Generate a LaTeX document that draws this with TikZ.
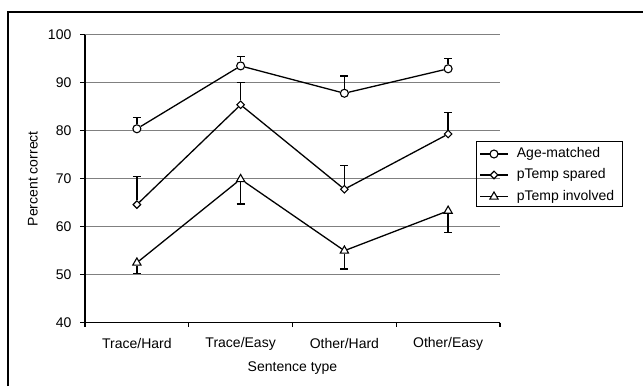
\documentclass[tikz,border=0pt]{standalone}
\usepackage{fontspec}
\setmainfont{Liberation Sans}
\usepackage{xcolor}
\usepackage{tikz}
\usetikzlibrary{shapes,shapes.geometric,positioning,calc}

\definecolor{gridgray}{gray}{0.5}

\tikzset{
    gridline/.style={gridgray, line width=1.3pt},
    axisline/.style={black, line width=1.3pt},
    dataline/.style={black, line width=1.3pt},
    errbar/.style={black, line width=1.3pt},
    agemark/.style={circle, draw, fill=white, line width=1.1pt, inner sep=0pt, minimum size=8pt},
    sparedmark/.style={diamond, draw, fill=white, line width=1.1pt, inner sep=0pt, minimum size=8pt},
    involvedmark/.style={regular polygon, regular polygon sides=3, draw, fill=white, line width=1.1pt, inner sep=0pt, minimum size=9.5pt},
    ticklabel/.style={inner sep=0pt}
}

\begin{document}
\begin{tikzpicture}[x=1pt, y=1pt, font=\fontsize{14}{16}\selectfont]
    \useasboundingbox (0,0) rectangle (643,386);
    % Frame
    \draw[line width=2pt] (8,0) -- (8,374) -- (643,374);

    % Plot area
    \begin{scope}[shift={(85,-128.7)}, x=103.75pt, y=4.8pt]
        \foreach \v in {50,60,...,100} \draw[gridline] (0,\v) -- (4,\v);
        \draw[axisline] (0,100) -- (0,40) -- (4,40);
        \foreach \v in {40,50,...,100}
            \draw[axisline] (0,\v) -- ++(-5pt,0) node[ticklabel, anchor=east, xshift=-8pt] {\v};
        \foreach \x in {0,1,2,3,4} \draw[axisline] (\x,40) -- ++(0,-4pt);
        \foreach \x/\name in {1/Trace\slash Hard, 2/Trace\slash Easy, 3/Other\slash Hard, 4/Other\slash Easy}
            \node[ticklabel] (cat\x) at (\x-0.5,40) [yshift=-21pt] {\name};
        \node[ticklabel] (xlabel) at (2,40) [yshift=-45pt] {Sentence type};
        \node[ticklabel, rotate=90] (ylabel) at ($(0,70)+(-52pt,0)$) {Percent correct};

        % Age-matched
        \foreach \i/\v/\e in {1/80.4/82.7, 2/93.5/95.4, 3/87.8/91.4, 4/92.9/95.0} {
            \node[agemark] (a\i) at (\i-0.5,\v) {};
            \draw[errbar] (a\i.north) -- (\i-0.5,\e) ++(-4pt,0) -- ++(8pt,0);
        }
        \draw[dataline] (a1) -- (a2) -- (a3) -- (a4);

        % pTemp spared
        \foreach \i/\v/\e in {1/64.6/70.4, 2/85.4/90.0, 3/67.8/72.7, 4/79.3/83.8} {
            \node[sparedmark] (s\i) at (\i-0.5,\v) {};
            \draw[errbar] (s\i.north) -- (\i-0.5,\e) ++(-4pt,0) -- ++(8pt,0);
        }
        \draw[dataline] (s1) -- (s2) -- (s3) -- (s4);

        % pTemp involved
        \foreach \i/\v/\e in {1/52.5/50.3, 2/69.9/64.7, 3/55.0/51.2, 4/63.3/58.8} {
            \node[involvedmark] (t\i) at (\i-0.5,\v) {};
            \draw[errbar] (t\i.south) -- (\i-0.5,\e) ++(-4pt,0) -- ++(8pt,0);
        }
        \draw[dataline] (t1) -- (t2) -- (t3) -- (t4);
    \end{scope}

    % Legend
    \draw[line width=0.9pt] (476,179.3) rectangle (622.7,244.3);
    \foreach \y/\m/\txt [count=\k] in {232/agemark/Age-matched, 211/sparedmark/pTemp spared, 189.3/involvedmark/pTemp involved} {
        \coordinate (l\k w) at (480,\y);
        \coordinate (l\k e) at (508,\y);
        \draw[dataline] (l\k w) -- (l\k e);
        \node[\m] (l\k m) at (494,\y) {};
        \node[ticklabel, anchor=west] (l\k t) at (516.7,\y) {\txt};
    }
\end{tikzpicture}
\end{document}
